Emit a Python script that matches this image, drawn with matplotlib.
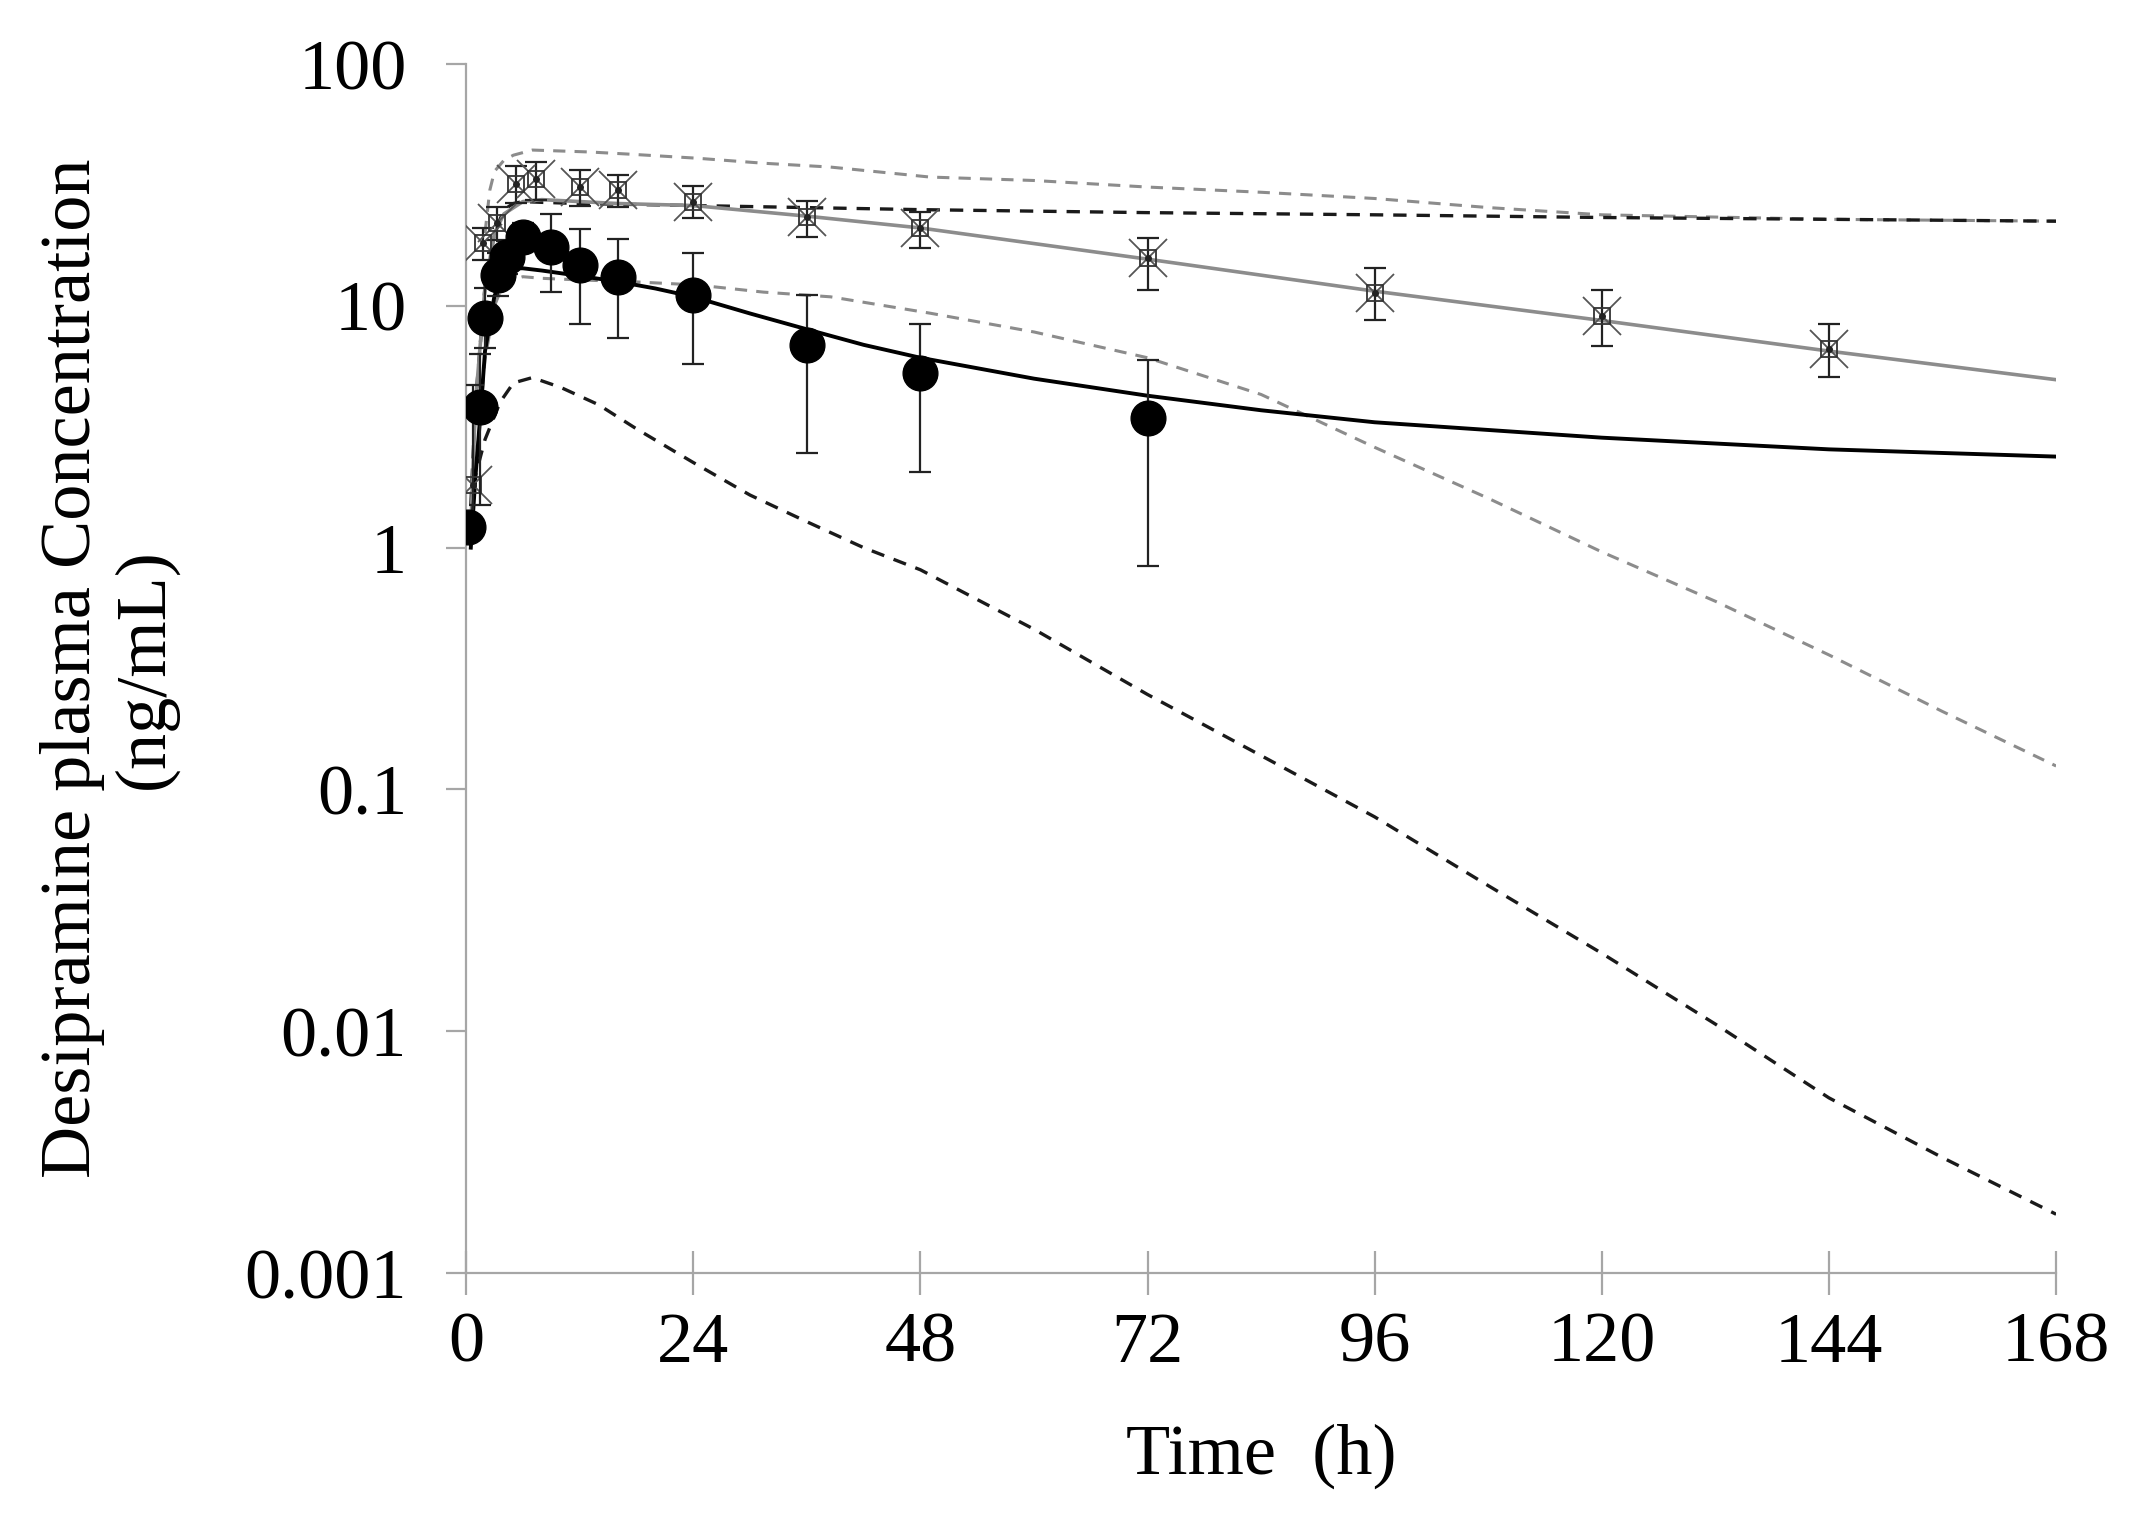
import numpy as np
import matplotlib.pyplot as plt

plt.rcParams['font.family'] = ['Liberation Serif', 'DejaVu Serif']

# observed data, filled circles
circ_t = [0.25, 1.5, 2, 3.4, 4.3, 6, 9, 12, 16, 24, 36, 48, 72]
circ_v = [1.22, 3.81, 8.9, 13.4, 15.9, 19.3, 17.5, 14.7, 13.2, 11.1, 6.88, 5.27, 3.44]
circ_hi = [1.35, 6.3, 11.8, 16.5, 18.5, 22.0, 24.0, 20.8, 18.9, 16.5, 11.1, 8.4, 6.0]
circ_lo = [1.1, 1.5, 6.7, 11.0, 13.5, 16.8, 11.4, 8.4, 7.36, 5.74, 2.46, 2.05, 0.84]

# observed data, star markers
star_t = [0.75, 1.8, 3.3, 5.3, 7.4, 12, 16, 24, 36, 48, 72, 96, 120, 144]
star_v = [1.82, 18.2, 22.0, 31.9, 33.5, 31.0, 30.1, 26.9, 23.3, 21.0, 15.7, 11.3, 9.1, 6.65]
star_hi = [4.7, 21.0, 25.6, 37.8, 39.3, 36.4, 34.8, 31.3, 27.1, 24.4, 19.0, 14.3, 11.6, 8.4]
star_lo = [1.3, 15.5, 18.7, 26.6, 27.4, 25.9, 25.6, 23.1, 19.3, 17.3, 11.6, 8.7, 6.8, 5.1]

# simulated mean, black solid
sim1_t = [0.5, 1, 1.5, 2, 3, 4, 5, 6, 8, 12, 16, 20, 24, 30, 36, 42, 48, 60, 72, 84, 96, 120, 144, 168]
sim1_v = [1.0, 2.0, 3.5, 6.5, 11.0, 13.5, 14.3, 14.3, 14.0, 13.3, 12.6, 11.8, 10.9, 9.3, 8.0, 6.9,
          6.1, 5.0, 4.25, 3.7, 3.3, 2.85, 2.55, 2.38]

# simulated mean, gray solid
sim2_t = [0.5, 1, 2, 3, 4, 6, 8, 12, 16, 24, 36, 48, 72, 96, 120, 144, 168]
sim2_v = [1.2, 4.0, 12.0, 20.0, 24.0, 27.0, 27.5, 27.0, 26.5, 26.0, 23.5, 21.0, 15.6, 11.5, 8.7, 6.5, 4.95]

# black dashed, upper and lower
bu_t = [0.5, 1, 2, 3, 4, 5, 6, 8, 12, 24, 48, 72, 96, 120, 144, 168]
bu_v = [1.5, 4.0, 12.0, 20.0, 25.0, 26.5, 27.0, 26.8, 26.5, 26.0, 25.0, 24.3, 23.8, 23.2, 22.8, 22.4]
bl_t = [0.7, 2, 3.6, 5, 7, 10, 14, 18, 24, 30, 36, 42, 48, 60, 72, 84, 96, 108, 120, 132, 144, 156, 168]
bl_v = [1.8, 2.8, 4.0, 4.8, 5.05, 4.6, 3.9, 3.1, 2.25, 1.65, 1.28, 1.0, 0.81, 0.46, 0.247, 0.138,
        0.077, 0.04, 0.021, 0.0107, 0.0053, 0.003, 0.00175]

# gray dashed, upper and lower
gu_t = [2, 2.5, 3, 4, 5, 7, 13, 17.3, 24.4, 31.4, 38.5, 49, 60, 72, 84, 96, 108, 120, 144, 168]
gu_v = [20, 30, 36, 40, 42.0, 44.1, 43.3, 42.4, 40.8, 38.9, 37.5, 34.1, 33.0, 31.0, 29.5, 27.8, 25.5, 23.8, 22.8, 22.4]
gl_t = [1, 2, 3, 4, 6, 8, 12, 17.3, 24.4, 31.4, 38.5, 49, 60, 72, 84, 96, 108, 120, 132, 144, 156, 168]
gl_v = [2.0, 6.0, 10.0, 12.5, 13.2, 13.0, 12.8, 12.6, 12.2, 11.4, 10.9, 9.33, 7.8, 6.1, 4.3, 2.6, 1.6,
        0.96, 0.6, 0.36, 0.21, 0.125]

xticks = [0, 24, 48, 72, 96, 120, 144, 168]
yticks = [0.001, 0.01, 0.1, 1, 10, 100]
ylabels = ['0.001', '0.01', '0.1', '1', '10', '100']

fig = plt.figure(figsize=(21.38, 15.22), dpi=100)
ax = fig.add_axes([0.218, 0.1636, 0.7437, 0.7943])

grey = '#8c8c8c'
dark = '#1a1a1a'

ax.plot(gu_t, gu_v, color=grey, lw=2.2, dashes=(4, 3))
ax.plot(gl_t, gl_v, color=grey, lw=2.2, dashes=(4, 3))
ax.plot(bu_t, bu_v, color=dark, lw=2.4, dashes=(4, 3))
ax.plot(bl_t, bl_v, color=dark, lw=2.4, dashes=(4, 3))
ax.plot(sim2_t, sim2_v, color=grey, lw=2.6)
ax.plot(sim1_t, sim1_v, color='black', lw=2.8)

# star series with error bars
s_err = [np.array(star_v) - np.array(star_lo), np.array(star_hi) - np.array(star_v)]
ax.errorbar(star_t, star_v, yerr=s_err, fmt='none', ecolor='#222222', elinewidth=1.6,
            capsize=8, capthick=1.6, zorder=4)
ax.plot(star_t, star_v, 'x', ms=27, mew=1.3, color='#555555', zorder=5)
ax.plot(star_t, star_v, 's', ms=11, mew=1.3, mfc='none', mec='#333333', zorder=5)
ax.plot(star_t, star_v, 'o', ms=4, color='#222222', zorder=5)

# circle series with error bars
c_err = [np.array(circ_v) - np.array(circ_lo), np.array(circ_hi) - np.array(circ_v)]
ax.errorbar(circ_t, circ_v, yerr=c_err, fmt='none', ecolor='#222222', elinewidth=1.6,
            capsize=8, capthick=1.6, zorder=6)
ax.plot(circ_t, circ_v, 'o', ms=25, color='black', zorder=7)

ax.set_yscale('log')
ax.set_xlim(0, 168)
ax.set_ylim(0.001, 100)
ax.set_xticks(xticks)
ax.set_xticklabels([str(t) for t in xticks])
ax.set_yticks(yticks)
ax.set_yticklabels(ylabels)
ax.yaxis.set_minor_locator(plt.NullLocator())

for side in ['top', 'right']:
    ax.spines[side].set_visible(False)
for side in ['left', 'bottom']:
    ax.spines[side].set_color('#a6a6a6')
    ax.spines[side].set_linewidth(1.6)

ax.tick_params(axis='x', direction='inout', length=32, width=1.6, color='#a6a6a6',
               labelsize=52, pad=12)
ax.tick_params(axis='y', direction='out', length=14.5, width=1.6, color='#a6a6a6',
               labelsize=52, pad=28)

ax.set_xlabel('Time  (h)', fontsize=52)
ax.xaxis.set_label_coords(0.5, -0.152)
ax.xaxis.label.set_verticalalignment('center')
ax.set_ylabel('Desipramine plasma Concentration\n(ng/mL)', fontsize=52, linespacing=1.15)
ax.yaxis.set_label_coords(-0.2245, 0.5)
ax.yaxis.label.set_verticalalignment('center')

fig.savefig('out.png', dpi=100)
